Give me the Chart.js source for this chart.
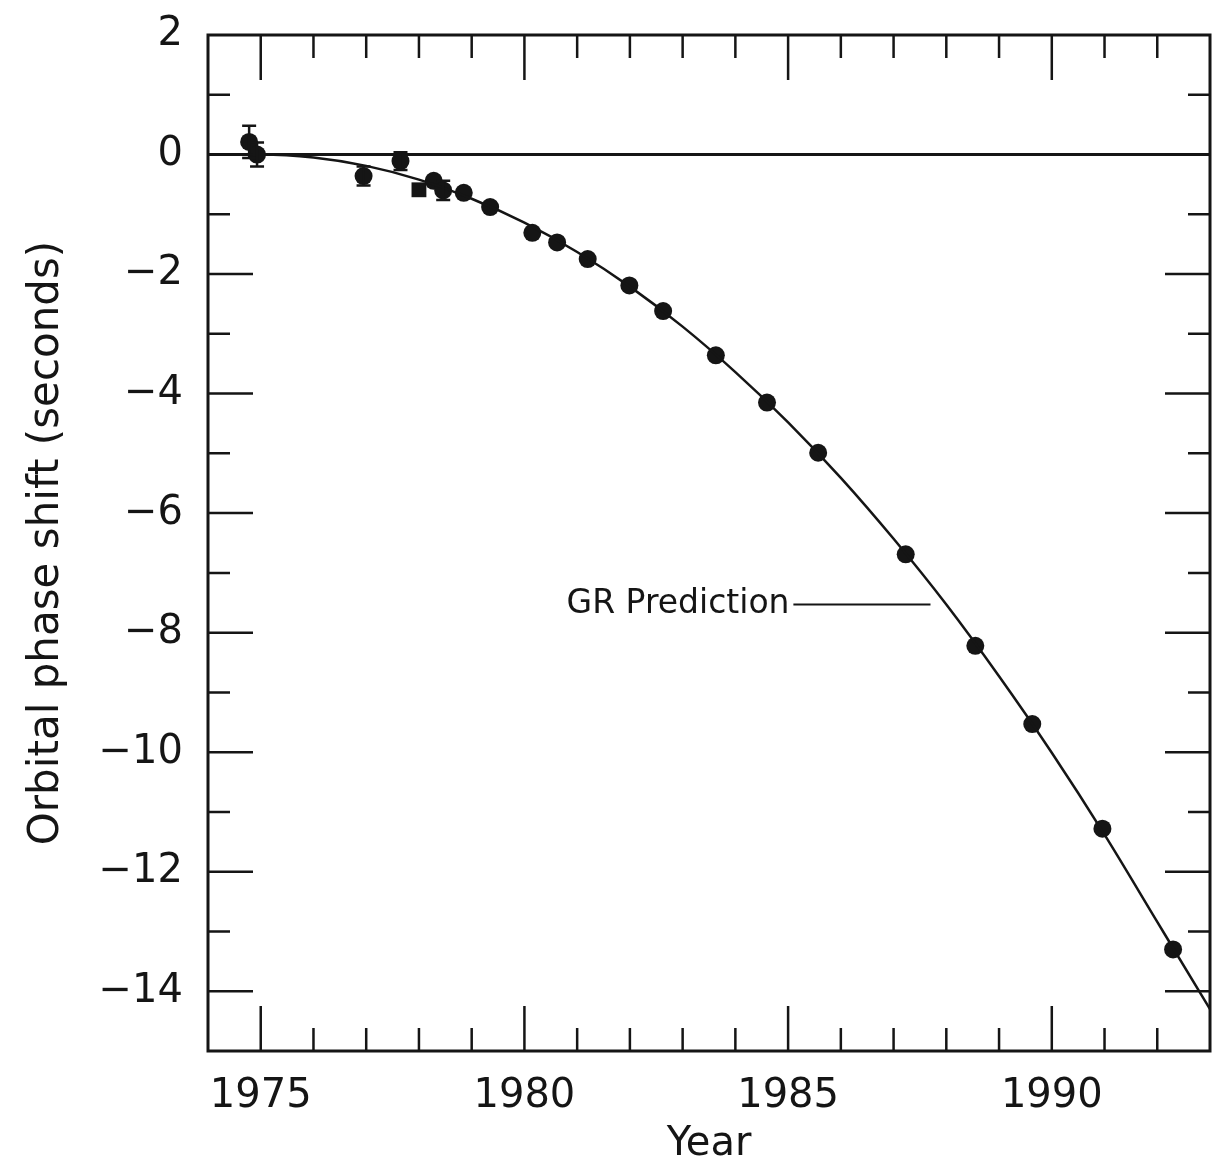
<!DOCTYPE html>
<html>
<head>
<meta charset="utf-8">
<script src="https://cdn.jsdelivr.net/npm/chart.js@4.4.1/dist/chart.umd.min.js"></script>
<style>
  html, body { margin: 0; padding: 0; background: #fff; }
  #wrap { width: 1225px; height: 1174px; }
</style>
</head>
<body>
<div id="wrap"><canvas id="chart" width="1225" height="1174"></canvas></div>
<script>
const obsYears = [1974.78, 1974.93, 1976.95, 1977.65, 1978.28, 1978.46, 1978.85, 1979.35,
                  1980.15, 1980.62, 1981.2, 1981.99, 1982.63, 1983.63, 1984.6, 1985.57,
                  1987.23, 1988.55, 1989.63, 1990.96, 1992.3];
const obsShift = [0.21, 0.0, -0.36, -0.11, -0.44, -0.6, -0.64, -0.88,
                  -1.31, -1.47, -1.75, -2.19, -2.62, -3.36, -4.15, -4.99,
                  -6.69, -8.22, -9.53, -11.28, -13.3];
const obsErr   = [0.27, 0.2, 0.16, 0.15, 0, 0.16, 0, 0,
                  0, 0, 0, 0, 0, 0, 0, 0,
                  0, 0, 0, 0, 0];

// the one square marker
const sqYears = [1978.0];
const sqShift = [-0.59];

// GR prediction curve, read at each year
const grYears = [1974.8, 1975, 1976, 1977, 1978, 1979, 1980, 1981, 1982, 1983, 1984,
                 1985, 1986, 1987, 1988, 1989, 1990, 1991, 1992, 1993];
const grShift = [0.0, 0.0, -0.05, -0.19, -0.42, -0.74, -1.14, -1.63, -2.21, -2.88, -3.64,
                 -4.48, -5.41, -6.43, -7.53, -8.73, -10.01, -11.38, -12.84, -14.3];

const ink = '#151515';
const fontFam = "'DejaVu Sans', sans-serif";

const pts = (xs, ys) => xs.map((v, i) => ({ x: v, y: ys[i] }));

// error bars drawn through the scales
const errorBars = {
  id: 'errorBars',
  afterDatasetsDraw(chart) {
    const { ctx, scales: { x, y } } = chart;
    ctx.save();
    ctx.strokeStyle = ink;
    ctx.lineWidth = 2.5;
    obsYears.forEach((yr, i) => {
      if (!obsErr[i]) return;
      const px = x.getPixelForValue(yr);
      const top = y.getPixelForValue(obsShift[i] + obsErr[i]);
      const bot = y.getPixelForValue(obsShift[i] - obsErr[i]);
      ctx.beginPath();
      ctx.moveTo(px, top); ctx.lineTo(px, bot);
      ctx.moveTo(px - 7, top); ctx.lineTo(px + 7, top);
      ctx.moveTo(px - 7, bot); ctx.lineTo(px + 7, bot);
      ctx.stroke();
    });
    ctx.restore();
  }
};

// box frame with inward ticks on all four sides, plus the label
const frameTicks = {
  id: 'frameTicks',
  afterDraw(chart) {
    const { ctx, chartArea: a, scales: { x, y } } = chart;
    ctx.save();
    ctx.strokeStyle = ink;
    ctx.lineWidth = 2.5;
    x.ticks.forEach(t => {
      if (t.value <= x.min || t.value >= x.max) return;
      const px = x.getPixelForValue(t.value);
      const len = t.value % 5 === 0 ? 45 : 23;
      ctx.beginPath();
      ctx.moveTo(px, a.bottom); ctx.lineTo(px, a.bottom - len);
      ctx.moveTo(px, a.top); ctx.lineTo(px, a.top + len);
      ctx.stroke();
    });
    y.ticks.forEach(t => {
      if (t.value <= y.min || t.value >= y.max) return;
      const py = y.getPixelForValue(t.value);
      const len = t.value % 2 === 0 ? 45 : 22;
      ctx.beginPath();
      ctx.moveTo(a.left, py); ctx.lineTo(a.left + len, py);
      ctx.moveTo(a.right, py); ctx.lineTo(a.right - len, py);
      ctx.stroke();
    });
    ctx.lineWidth = 3;
    ctx.strokeRect(a.left, a.top, a.right - a.left, a.bottom - a.top);

    // "GR Prediction" with its leader line
    const ly = y.getPixelForValue(-7.53);
    ctx.fillStyle = ink;
    ctx.font = "33px " + fontFam;
    ctx.textAlign = 'left';
    ctx.textBaseline = 'middle';
    ctx.fillText('GR Prediction', x.getPixelForValue(1980.8), ly);
    ctx.lineWidth = 2;
    ctx.beginPath();
    ctx.moveTo(x.getPixelForValue(1985.1), ly);
    ctx.lineTo(x.getPixelForValue(1987.7), ly);
    ctx.stroke();
    ctx.restore();
  }
};

new Chart(document.getElementById('chart'), {
  type: 'scatter',
  data: {
    datasets: [
      {
        label: 'zero',
        data: [{ x: 1974, y: 0 }, { x: 1993, y: 0 }],
        showLine: true,
        borderColor: ink,
        borderWidth: 3,
        pointRadius: 0
      },
      {
        label: 'GR Prediction',
        data: pts(grYears, grShift),
        showLine: true,
        borderColor: ink,
        borderWidth: 2.5,
        pointRadius: 0,
        cubicInterpolationMode: 'monotone'
      },
      {
        label: 'observed',
        data: pts(obsYears, obsShift),
        backgroundColor: ink,
        borderWidth: 0,
        pointRadius: 9
      },
      {
        label: 'observed (square)',
        data: pts(sqYears, sqShift),
        backgroundColor: ink,
        borderWidth: 0,
        pointStyle: 'rect',
        pointRadius: 10.5
      }
    ]
  },
  options: {
    responsive: false,
    animation: false,
    layout: { padding: { top: 35, right: 15, left: 0, bottom: 0 } },
    plugins: { legend: { display: false }, tooltip: { enabled: false } },
    scales: {
      x: {
        type: 'linear',
        min: 1974,
        max: 1993,
        grid: { display: false, drawTicks: false },
        border: { display: false },
        afterFit(s) {
          s.height = 123;
          s.paddingLeft = 0; s.paddingRight = 0;
        },
        ticks: {
          stepSize: 1,
          autoSkip: false,
          maxRotation: 0,
          padding: 22,
          color: ink,
          font: { family: fontFam, size: 40 },
          callback: v => (v % 5 === 0 ? String(v) : '')
        },
        title: {
          display: true,
          text: 'Year',
          color: ink,
          font: { family: fontFam, size: 40 },
          padding: { top: 0, bottom: 5 }
        }
      },
      y: {
        min: -15,
        max: 2,
        grid: { display: false, drawTicks: false },
        border: { display: false },
        afterFit(s) {
          s.width = 208;
          s.paddingTop = 0; s.paddingBottom = 0;
        },
        ticks: {
          stepSize: 1,
          autoSkip: false,
          padding: 25,
          color: ink,
          font: { family: fontFam, size: 40 },
          callback: v => (v % 2 === 0 ? (v < 0 ? '\u2212' + Math.abs(v) : String(Math.abs(v))) : '')
        },
        title: {
          display: true,
          text: 'Orbital phase shift (seconds)',
          color: ink,
          font: { family: fontFam, size: 42 },
          padding: { top: 22, bottom: 0 }
        }
      }
    }
  },
  plugins: [errorBars, frameTicks]
});
</script>
</body>
</html>
